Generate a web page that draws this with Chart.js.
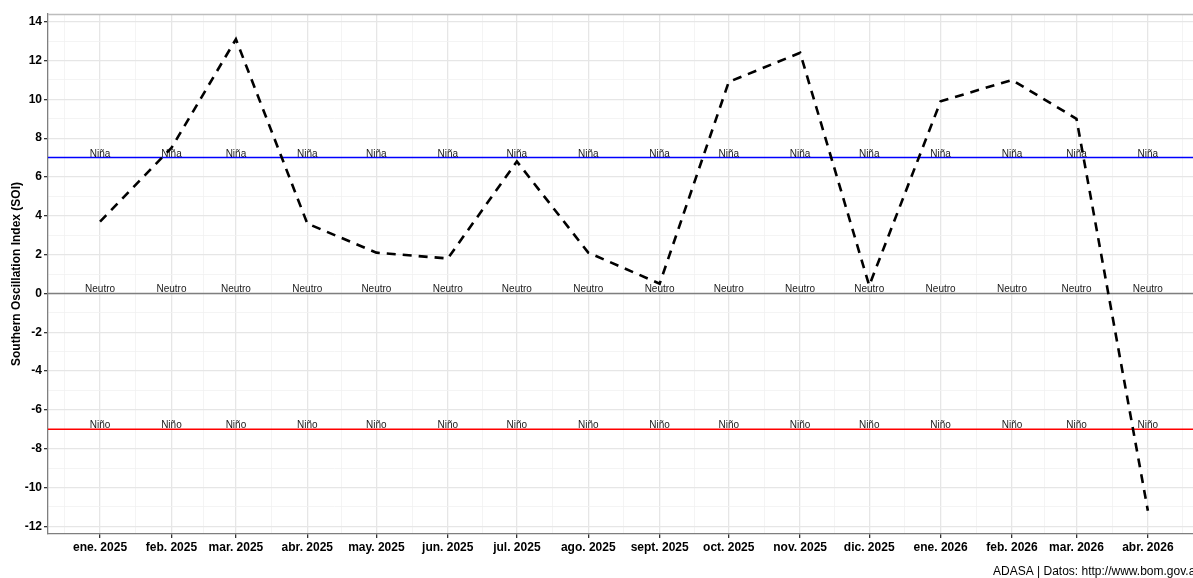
<!DOCTYPE html>
<html>
<head>
<meta charset="utf-8">
<title>Southern Oscillation Index (SOI)</title>
<script src="https://cdn.jsdelivr.net/npm/chart.js@4"></script>
<style>
    html, body { margin: 0; padding: 0; background: #ffffff; }
    #wrap { width: 1193px; height: 578px; position: relative; }
</style>
</head>
<body>
<div id="wrap"><canvas id="soiChart"></canvas></div>
<script>
// months shown (first day of each month)
const monthKeys = [
    "2025-01", "2025-02", "2025-03", "2025-04", "2025-05", "2025-06",
    "2025-07", "2025-08", "2025-09", "2025-10", "2025-11", "2025-12",
    "2026-01", "2026-02", "2026-03", "2026-04"
];
const monthLabels = [
    "ene. 2025", "feb. 2025", "mar. 2025", "abr. 2025", "may. 2025", "jun. 2025",
    "jul. 2025", "ago. 2025", "sept. 2025", "oct. 2025", "nov. 2025", "dic. 2025",
    "ene. 2026", "feb. 2026", "mar. 2026", "abr. 2026"
];
const soiValues = [3.7, 7.5, 13.1, 3.6, 2.1, 1.8, 6.8, 2.1, 0.5, 10.9, 12.4, 0.4, 9.9, 11.0, 9.0, -11.2];

// phase thresholds
const phaseValues = [7, 0, -7];
const phaseNames = ["Niña", "Neutro", "Niño"];

const yTickValues = [-12, -11, -10, -9, -8, -7, -6, -5, -4, -3, -2, -1, 0, 1, 2, 3, 4, 5, 6, 7, 8, 9, 10, 11, 12, 13, 14];
const yTitle = "Southern Oscillation Index (SOI)";
const captionText = "ADASA | Datos: http://www.bom.gov.au";

// styles
const phaseColors = ["#0000ff", "#7f7f7f", "#ff0000"];
const FONT = "'Liberation Sans', Arial, Helvetica, sans-serif";

// days since 2025-01-01
function dayOf(key) {
    const parts = key.split("-");
    const t = Date.UTC(+parts[0], +parts[1] - 1, 1);
    return (t - Date.UTC(2025, 0, 1)) / 86400000;
}

const monthDays = monthKeys.map(dayOf);
const xMin = -22.6;
const xMax = 474.6;

// minor breaks halfway between month starts (incl. one month either side)
const extDays = [dayOf("2024-12")].concat(monthDays, [dayOf("2026-05")]);
const minorDays = [];
for (let i = 0; i < extDays.length - 1; i++) {
    const mid = (extDays[i] + extDays[i + 1]) / 2;
    if (mid > xMin && mid < xMax) minorDays.push(mid);
}
const xTickValues = monthDays.concat(minorDays).sort(function (a, b) { return a - b; });

function isMajorX(v) { return monthDays.indexOf(v) !== -1; }
function isMajorY(v) { return v % 2 === 0; }

const soiPoints = monthDays.map(function (d, i) {
    return { x: d, y: soiValues[i] };
});

// thresholds, phase labels, panel border and caption
const decorPlugin = {
    id: "soiDecor",
    beforeDatasetsDraw: function (chart) {
        const ctx = chart.ctx;
        const area = chart.chartArea;
        const xs = chart.scales.x;
        const ys = chart.scales.y;
        ctx.save();

        ctx.strokeStyle = "#bdbdbd";
        ctx.lineWidth = 1.3;
        ctx.beginPath();
        ctx.moveTo(area.left, area.top + 0.5);
        ctx.lineTo(area.right, area.top + 0.5);
        ctx.stroke();

        phaseValues.forEach(function (v, i) {
            const py = ys.getPixelForValue(v);
            ctx.strokeStyle = phaseColors[i];
            ctx.lineWidth = 1.5;
            ctx.beginPath();
            ctx.moveTo(area.left, py);
            ctx.lineTo(area.right, py);
            ctx.stroke();

            ctx.fillStyle = "#1a1a1a";
            ctx.font = "10px " + FONT;
            ctx.textAlign = "center";
            ctx.textBaseline = "alphabetic";
            monthDays.forEach(function (d) {
                ctx.fillText(phaseNames[i], xs.getPixelForValue(d), py - 1);
            });
        });
        ctx.restore();
    },
    afterDraw: function (chart) {
        const ctx = chart.ctx;
        ctx.save();
        ctx.fillStyle = "#000000";
        ctx.font = "12px " + FONT;
        ctx.textAlign = "left";
        ctx.textBaseline = "middle";
        ctx.fillText(captionText, 993, 572);
        ctx.restore();
    }
};

new Chart(document.getElementById("soiChart"), {
    type: "line",
    data: {
        datasets: [
            {
                label: "SOI",
                data: soiPoints,
                borderColor: "#000000",
                borderWidth: 2.6,
                borderDash: [9, 7],
                pointRadius: 0,
                tension: 0,
                fill: false
            }
        ]
    },
    options: {
        responsive: true,
        maintainAspectRatio: false,
        animation: false,
        layout: {
            padding: { top: 14, right: 0, bottom: 0, left: 0 }
        },
        plugins: {
            legend: { display: false },
            tooltip: { enabled: false }
        },
        scales: {
            x: {
                type: "linear",
                min: xMin,
                max: xMax,
                afterBuildTicks: function (scale) {
                    scale.ticks = xTickValues.map(function (v) { return { value: v }; });
                },
                afterFit: function (scale) {
                    scale.height = 44;
                },
                grid: {
                    color: function (c) {
                        return c.tick && isMajorX(c.tick.value) ? "#e6e6e6" : "#f1f1f1";
                    },
                    lineWidth: function (c) {
                        return c.tick && isMajorX(c.tick.value) ? 1.3 : 0.8;
                    },
                    tickColor: function (c) {
                        return c.tick && isMajorX(c.tick.value) ? "#333333" : "rgba(0,0,0,0)";
                    },
                    tickLength: 4
                },
                border: { display: true, color: "#7f7f7f", width: 1.3 },
                ticks: {
                    autoSkip: false,
                    maxRotation: 0,
                    padding: 2,
                    color: "#000000",
                    font: { family: FONT, size: 12, weight: "bold" },
                    callback: function (value) {
                        const idx = monthDays.indexOf(value);
                        return idx === -1 ? "" : monthLabels[idx];
                    }
                }
            },
            y: {
                type: "linear",
                min: -12.4,
                max: 14.4,
                afterBuildTicks: function (scale) {
                    scale.ticks = yTickValues.map(function (v) { return { value: v }; });
                },
                afterFit: function (scale) {
                    scale.width = 48;
                },
                grid: {
                    color: function (c) {
                        return c.tick && isMajorY(c.tick.value) ? "#e6e6e6" : "#f1f1f1";
                    },
                    lineWidth: function (c) {
                        return c.tick && isMajorY(c.tick.value) ? 1.3 : 0.8;
                    },
                    tickColor: function (c) {
                        return c.tick && isMajorY(c.tick.value) ? "#333333" : "rgba(0,0,0,0)";
                    },
                    tickLength: 4
                },
                border: { display: true, color: "#7f7f7f", width: 1.3 },
                ticks: {
                    autoSkip: false,
                    padding: 2,
                    color: "#000000",
                    font: { family: FONT, size: 12, weight: "bold" },
                    callback: function (value) {
                        return isMajorY(value) ? String(value) : "";
                    }
                },
                title: {
                    display: true,
                    text: yTitle,
                    color: "#000000",
                    padding: { top: 9, bottom: 0 },
                    font: { family: FONT, size: 12, weight: "bold" }
                }
            }
        }
    },
    plugins: [decorPlugin]
});
</script>
</body>
</html>
